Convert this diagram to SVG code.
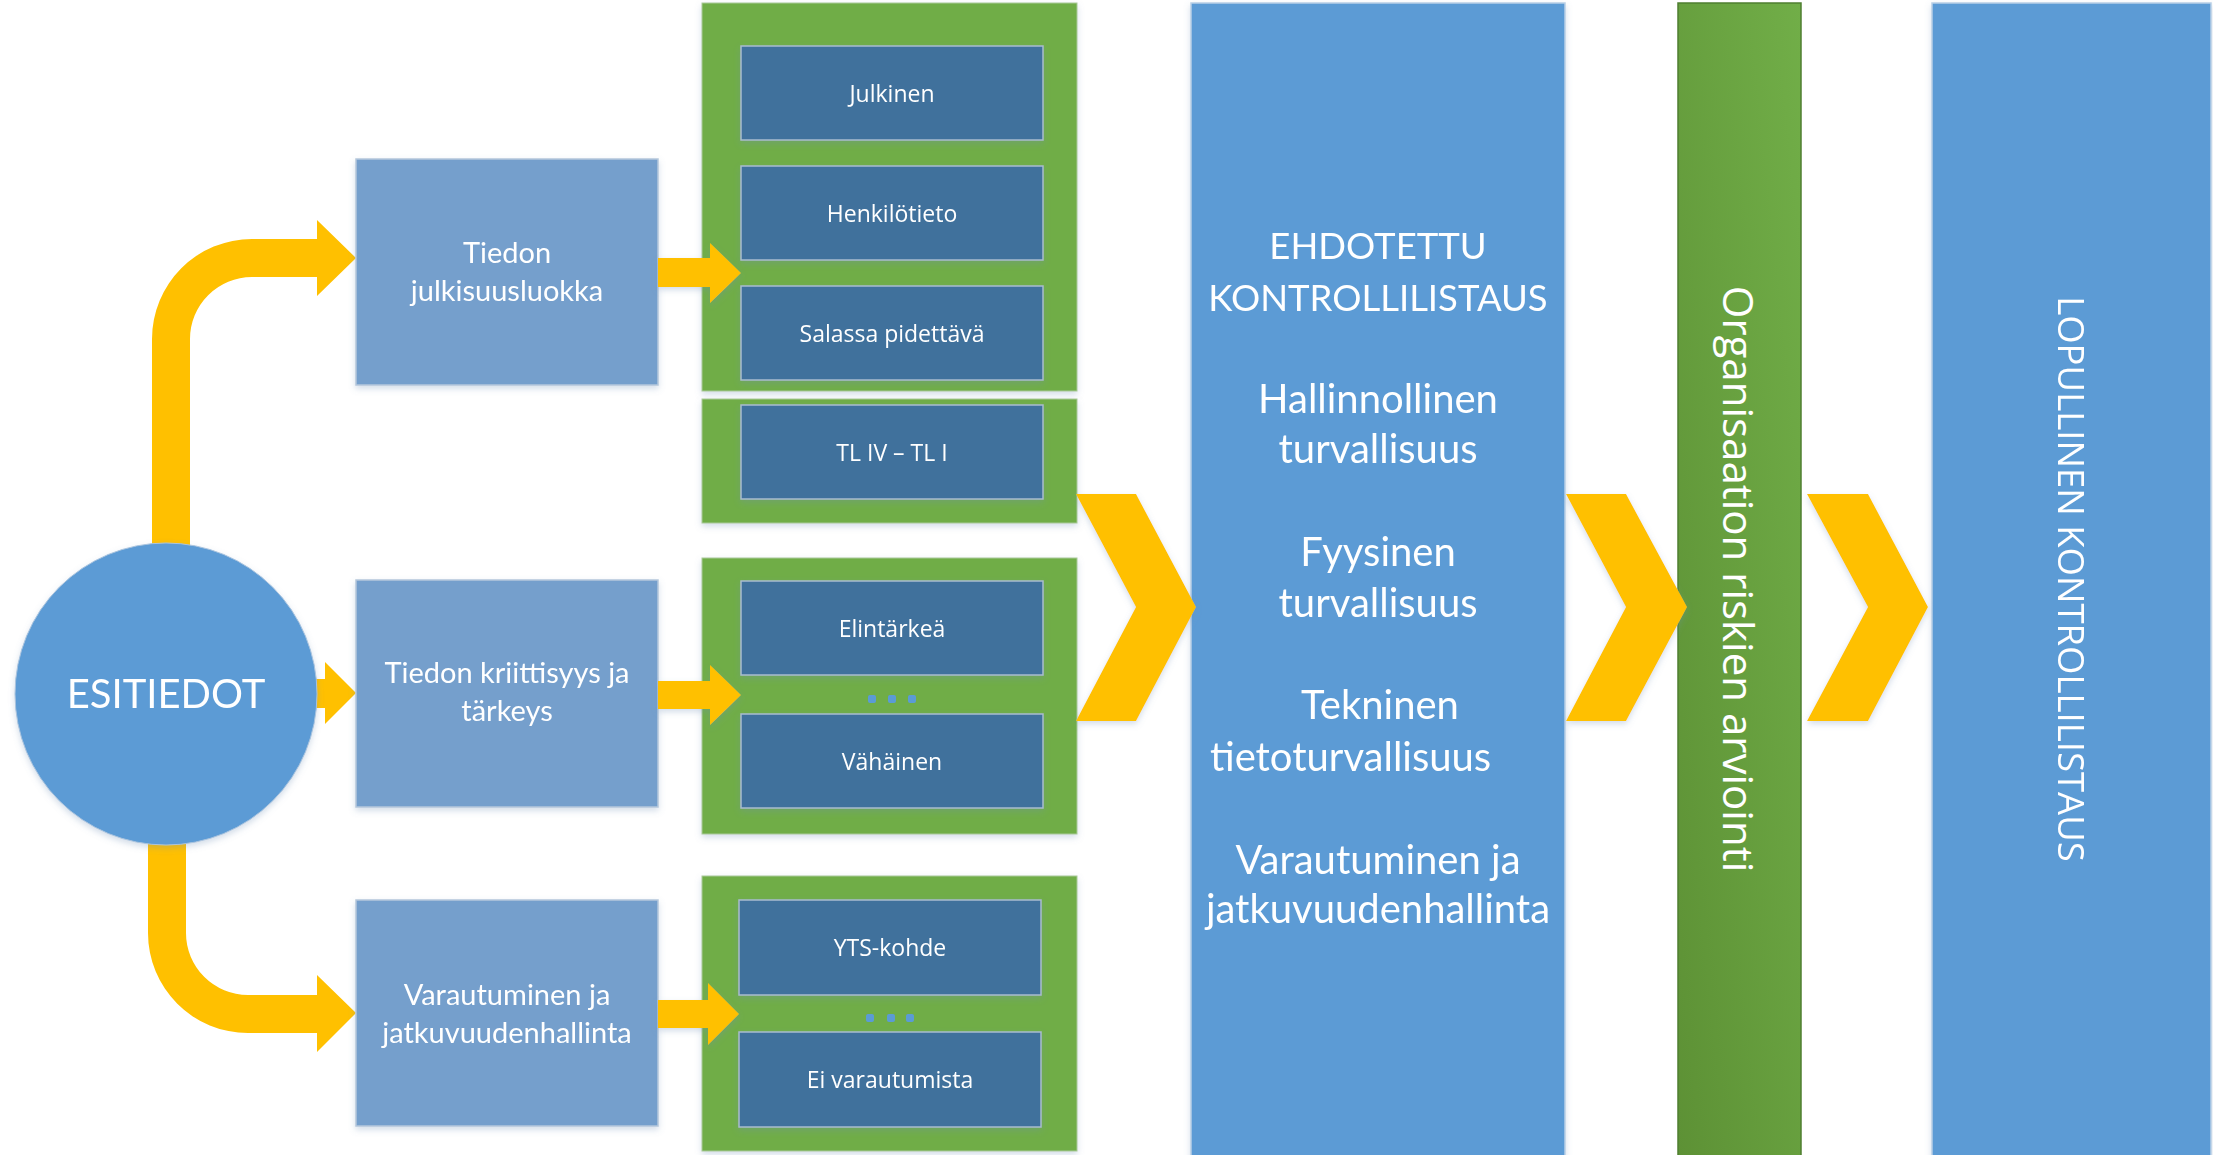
<svg xmlns="http://www.w3.org/2000/svg" width="2213" height="1155" viewBox="0 0 2213 1155">
<defs>
<style>
.col{fill:#5b9bd5;stroke:#b9cfe6;stroke-width:1.5}
.lbox{fill:#759fcc;stroke:#b5c7dc;stroke-width:1.5}
.cont{fill:#70ad47;stroke:#a9c99a;stroke-width:1}
.ibox{fill:#41719c;stroke:#a9bccf;stroke-width:1.5}
.yel{fill:#ffc000}
.dot{fill:#5b9bd5}
.big{font-family:Lato,"Open Sans",sans-serif;fill:#fff;text-anchor:middle}
.seg{font-family:"Open Sans","Noto Sans",sans-serif;fill:#fff;text-anchor:middle}
.start{text-anchor:start}
.c38{font-size:36.5px}
.c40{font-size:40px}
.c29{font-size:29px}
.s23{font-size:23px}
</style>
<linearGradient id="gcol" x1="1" y1="0" x2="0" y2="1">
<stop offset="0" stop-color="#71ae48"/>
<stop offset="1" stop-color="#5d9135"/>
</linearGradient>
<filter id="sh" x="-10%" y="-10%" width="120%" height="130%">
<feDropShadow dx="0" dy="3" stdDeviation="3" flood-color="#6f8fb5" flood-opacity="0.3"/>
</filter>
</defs>
<rect width="2213" height="1155" fill="#fff"/>

<g id="col-ehdotettu" filter="url(#sh)">
<rect class="col" x="1191" y="3" width="374" height="1160"/>
<text class="big c38" x="1378" y="259">EHDOTETTU</text>
<text class="big c38" x="1378" y="311">KONTROLLILISTAUS</text>
<text class="big c40" x="1378" y="413">Hallinnollinen</text>
<text class="big c40" x="1378" y="463">turvallisuus</text>
<text class="big c40" x="1378" y="566">Fyysinen</text>
<text class="big c40" x="1378" y="617">turvallisuus</text>
<text class="big c40" x="1380" y="719">Tekninen</text>
<text class="big c40 start" x="1210" y="771">tietoturvallisuus</text>
<text class="big c40" x="1378" y="874">Varautuminen ja</text>
<text class="big c40" x="1378" y="923">jatkuvuudenhallinta</text>
</g>

<g id="col-riskit">
<rect x="1678" y="3" width="123" height="1160" fill="url(#gcol)" stroke="#4f7f30" stroke-width="1.5"/>
<text class="seg" font-size="42" transform="translate(1723,579) rotate(90)">Organisaation riskien arviointi</text>
</g>

<g id="col-lopullinen" filter="url(#sh)">
<rect class="col" x="1932" y="3" width="279" height="1160"/>
<text class="seg" font-size="36.5" transform="translate(2058,579) rotate(90)">LOPULLINEN KONTROLLILISTAUS</text>
</g>

<g id="connectors">
<path class="yel" d="M152,560 L152,339 A100,100 0 0 1 252,239 L317,239 L317,220 L356,258 L317,296 L317,277 L252,277 A62,62 0 0 0 190,339 L190,560 Z"/>
<path class="yel" d="M300,679 L325,679 L325,662 L356,693 L325,724 L325,708 L300,708 Z"/>
<path class="yel" d="M148,830 L148,933 A100,100 0 0 0 248,1033 L317,1033 L317,1052 L356,1013 L317,975 L317,995 L248,995 A62,62 0 0 1 186,933 L186,830 Z"/>
</g>

<g id="esitiedot" filter="url(#sh)">
<circle cx="166" cy="694" r="151" fill="#5b9bd5" stroke="#a9c3de" stroke-width="1"/>
<text class="big" font-size="40" x="166" y="708">ESITIEDOT</text>
</g>

<g id="box-julkisuus" filter="url(#sh)">
<rect class="lbox" x="356" y="159" width="302" height="226"/>
<text class="big c29" x="507" y="263">Tiedon</text>
<text class="big c29" x="507" y="301">julkisuusluokka</text>
</g>
<g id="box-kriittisyys" filter="url(#sh)">
<rect class="lbox" x="356" y="580" width="302" height="227"/>
<text class="big c29" x="507" y="683">Tiedon kriittisyys ja</text>
<text class="big c29" x="507" y="721">tärkeys</text>
</g>
<g id="box-varautuminen" filter="url(#sh)">
<rect class="lbox" x="356" y="900" width="302" height="226"/>
<text class="big c29" x="507" y="1005">Varautuminen ja</text>
<text class="big c29" x="507" y="1043">jatkuvuudenhallinta</text>
</g>

<g id="cont-julkisuus" filter="url(#sh)">
<rect class="cont" x="702" y="3" width="375" height="388"/>
</g>
<g id="cont-tl" filter="url(#sh)">
<rect class="cont" x="702" y="399" width="375" height="124"/>
</g>
<g id="cont-kriittisyys" filter="url(#sh)">
<rect class="cont" x="702" y="558" width="375" height="276"/>
</g>
<g id="cont-varautuminen" filter="url(#sh)">
<rect class="cont" x="702" y="876" width="375" height="275"/>
</g>

<g id="julkinen" filter="url(#sh)">
<rect class="ibox" x="741" y="46" width="302" height="94"/>
<text class="seg s23" x="892" y="101.5">Julkinen</text>
</g>
<g id="henkilotieto" filter="url(#sh)">
<rect class="ibox" x="741" y="166" width="302" height="94"/>
<text class="seg s23" x="892" y="221.5">Henkilötieto</text>
</g>
<g id="salassa" filter="url(#sh)">
<rect class="ibox" x="741" y="286" width="302" height="94"/>
<text class="seg s23" x="892" y="341.5">Salassa pidettävä</text>
</g>
<g id="tl" filter="url(#sh)">
<rect class="ibox" x="741" y="405" width="302" height="94"/>
<text class="seg s23" x="892" y="460.5">TL IV – TL I</text>
</g>
<g id="elintarkea" filter="url(#sh)">
<rect class="ibox" x="741" y="581" width="302" height="94"/>
<text class="seg s23" x="892" y="636.5">Elintärkeä</text>
</g>
<g id="dots1">
<rect class="dot" x="868" y="695" width="8" height="8" rx="2"/>
<rect class="dot" x="888" y="695" width="8" height="8" rx="2"/>
<rect class="dot" x="908" y="695" width="8" height="8" rx="2"/>
</g>
<g id="vahainen" filter="url(#sh)">
<rect class="ibox" x="741" y="714" width="302" height="94"/>
<text class="seg s23" x="892" y="769.5">Vähäinen</text>
</g>
<g id="yts" filter="url(#sh)">
<rect class="ibox" x="739" y="900" width="302" height="95"/>
<text class="seg s23" x="890" y="956">YTS-kohde</text>
</g>
<g id="dots2">
<rect class="dot" x="866" y="1014" width="8" height="8" rx="2"/>
<rect class="dot" x="887" y="1014" width="8" height="8" rx="2"/>
<rect class="dot" x="906" y="1014" width="8" height="8" rx="2"/>
</g>
<g id="ei-varautumista" filter="url(#sh)">
<rect class="ibox" x="739" y="1032" width="302" height="95"/>
<text class="seg s23" x="890" y="1088">Ei varautumista</text>
</g>

<g id="connectors-2" filter="url(#sh)">
<path class="yel" d="M658,258 L710,258 L710,243 L741,273 L710,303 L710,287 L658,287 Z"/>
<path class="yel" d="M658,681 L710,681 L710,665 L741,695 L710,725 L710,709 L658,709 Z"/>
<path class="yel" d="M658,1000 L708,1000 L708,983 L739,1014 L708,1045 L708,1028 L658,1028 Z"/>
<path class="yel" d="M1076,494 L1136,494 L1196,607 L1136,721 L1076,721 L1136,607 Z"/>
<path class="yel" d="M1566,494 L1626,494 L1687,607 L1626,721 L1566,721 L1626,607 Z"/>
<path class="yel" d="M1807,494 L1868,494 L1928,607 L1868,721 L1807,721 L1868,607 Z"/>
</g>
</svg>
